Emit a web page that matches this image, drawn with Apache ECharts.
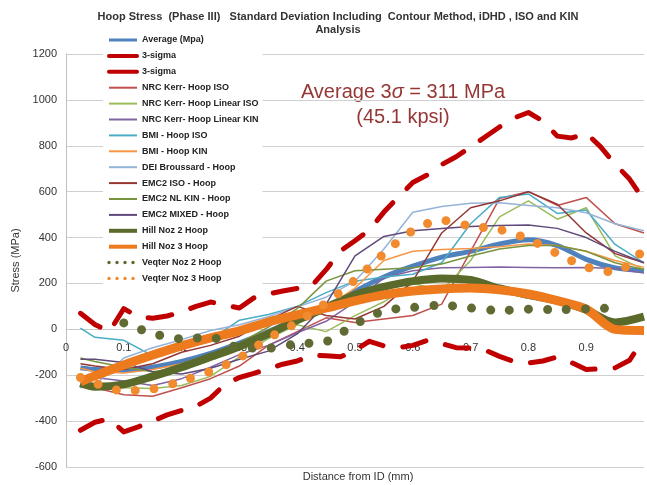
<!DOCTYPE html>
<html>
<head>
<meta charset="utf-8">
<script src="https://cdn.jsdelivr.net/npm/echarts@6/dist/echarts.min.js"></script>
<style>
html, body { margin: 0; padding: 0; background: #fff; }
#chart { width: 647px; height: 485px; }
</style>
</head>
<body>
<div id="chart"></div>
<script>
// x positions (mm) used by the 3-sigma bands
const xFine = [0.025, 0.05, 0.075, 0.1, 0.125, 0.15, 0.175, 0.2, 0.225, 0.25,
  0.275, 0.3, 0.325, 0.35, 0.375, 0.4, 0.425, 0.45, 0.475, 0.5,
  0.525, 0.55, 0.575, 0.6, 0.625, 0.65, 0.675, 0.7, 0.725, 0.75,
  0.775, 0.8, 0.825, 0.85, 0.875, 0.9, 0.925, 0.95, 0.975, 1.0];
// x positions (mm) used by every other series
const xPts = [0.025, 0.05, 0.1, 0.15, 0.2, 0.25, 0.3, 0.35, 0.4, 0.45, 0.5,
  0.55, 0.6, 0.65, 0.7, 0.75, 0.8, 0.85, 0.9, 0.95, 1.0];

const sigmaUpper = [70, 21, -10, 90, 55, 48, 58, 76, 100, 119,
  106, 93, 137, 154, 167, 178, 190, 260, 342, 386,
  433, 511, 577, 640, 673, 718, 752, 795, 838, 882,
  921, 945, 908, 842, 834, 855, 795, 720, 655, 563];
const sigmaLower = [-440, -405, -390, -447, -425, -400, -373, -353, -335, -300,
  -240, -210, -192, -172, -152, -138, -112, -115, -120, -90,
  -52, -72, -80, -70, -48, -62, -80, -82, -90, -118,
  -140, -147, -138, -120, -145, -175, -172, -168, -135, -40];

const average   = [-168, -175, -178, -165, -140, -105, -60, -10, 45, 90, 165, 228, 275, 315, 340, 372, 390, 365, 305, 268, 255];
const nrcIso    = [-250, -255, -285, -292, -255, -215, -160, -70, -10, 50, 30, 45, 60, 110, 340, 570, 600, 540, 575, 460, 420];
const nrcLinIso = [-235, -245, -255, -258, -245, -205, -120, -40, 20, -10, 60, 120, 200, 170, 300, 490, 560, 480, 530, 320, 260];
const nrcLinKin = [-205, -210, -225, -245, -215, -165, -110, -70, -15, 35, 120, 225, 255, 268, 270, 272, 270, 268, 270, 265, 245];
const bmiIso    = [5, -35, -48, -115, -80, -45, 40, 65, 100, 160, 210, 228, 240, 290, 460, 575, 590, 505, 520, 370, 290];
const bmiKin    = [-170, -185, -190, -175, -150, -110, -60, -5, 45, 95, 180, 300, 340, 348, 352, 360, 372, 365, 340, 300, 270];
const deiHoop   = [-255, -245, -125, -80, -45, -5, 20, 55, 98, 140, 210, 350, 510, 535, 550, 552, 540, 530, 508, 460, 430];
const emc2Iso   = [-150, -160, -175, -150, -100, -70, -30, 40, 100, 60, 45, 100, 210, 420, 530, 560, 600, 545, 420, 330, 290];
const emc2NlKin = [-125, -140, -165, -185, -170, -120, -60, 10, 90, 210, 255, 262, 268, 285, 320, 350, 365, 365, 340, 290, 260];
const emc2Mixed = [-130, -130, -145, -185, -195, -170, -130, -95, -20, 110, 320, 405, 430, 440, 448, 452, 455, 440, 400, 340, 290];
const hillNoz2  = [-235, -250, -240, -205, -165, -120, -75, -20, 40, 95, 150, 185, 210, 222, 215, 178, 150, 125, 85, 30, 55];
const hillNoz3  = [-229, -203, -155, -112, -72, -37, -7, 32, 63, 93, 124, 150, 167, 176, 180, 172, 154, 125, 88, 0, -5];
const veqter2   = [null, null, 28, -18, -41, -35, -80, -82, -63, -53, 22, 80, 95, 105, 93, 82, 88, 86, 89, 93, null];
const veqter3   = [-210, -235, -268, -260, -225, -183, -125, -40, 30, 115, 215, 330, 430, 475, 450, 435, 393, 330, 272, 250, 350];

const yTicks = { min: -600, max: 1200, step: 200 };
const FONT = "'Liberation Sans', Arial, sans-serif";

// plot box in pixels, x axis drawn where stress = 0
const plotTop = 54, plotBottom = 467;
const zeroOffset = -(plotBottom - plotTop) * (0 - yTicks.min) / (yTicks.max - yTicks.min);

function pairs(xs, vals) {
  return xs.map((x, i) => [x, vals[i]]);
}

function line(name, xs, vals, color, width, extra) {
  return Object.assign({
    name: name,
    type: 'line',
    data: pairs(xs, vals),
    symbol: 'none',
    connectNulls: false,
    lineStyle: { color: color, width: width, join: 'round' },
    itemStyle: { color: color }
  }, extra || {});
}

const dashed = { type: [24, 20], cap: 'round' };
const dots = { type: [0, 19], cap: 'round' };

const series = [
  line('Average (Mpa)', xPts, average, '#4F81BD', 5, { smooth: 0.3 }),
  line('3-sigma', xFine, sigmaUpper, '#C00000', 5),
  line('3-sigma ', xFine, sigmaLower, '#C00000', 5),
  line('NRC Kerr- Hoop ISO', xPts, nrcIso, '#C0504D', 1.5),
  line('NRC Kerr- Hoop Linear ISO', xPts, nrcLinIso, '#9BBB59', 1.5),
  line('NRC Kerr- Hoop Linear KIN', xPts, nrcLinKin, '#8064A2', 1.5),
  line('BMI - Hoop ISO', xPts, bmiIso, '#4BACC6', 1.5),
  line('BMI - Hoop KIN', xPts, bmiKin, '#F79646', 1.5),
  line('DEI Broussard - Hoop', xPts, deiHoop, '#95B3D7', 1.5),
  line('EMC2 ISO - Hoop', xPts, emc2Iso, '#953735', 1.5),
  line('EMC2 NL KIN - Hoop', xPts, emc2NlKin, '#77933C', 1.5),
  line('EMC2 MIXED - Hoop', xPts, emc2Mixed, '#604A7B', 1.5),
  line('Hill Noz 2 Hoop', xPts, hillNoz2, '#5A6A2A', 8, { smooth: 0.3 }),
  line('Hill Noz 3 Hoop', xPts, hillNoz3, '#EE7A1E', 9, { smooth: 0.3 }),
  line('Veqter Noz 2 Hoop', xPts, veqter2, '#5F6B33', 9, { smooth: 0.3 }),
  line('Veqter Noz 3 Hoop', xPts, veqter3, '#F28A2E', 9, { smooth: 0.3 })
];
// dash patterns for the 3-sigma bands and the Veqter dots
series[1].lineStyle = Object.assign(series[1].lineStyle, dashed);
series[2].lineStyle = Object.assign(series[2].lineStyle, dashed);
series[14].lineStyle = Object.assign(series[14].lineStyle, dots);
series[15].lineStyle = Object.assign(series[15].lineStyle, dots);

const legendWidth = {
  'Average (Mpa)': 3, '3-sigma': 4, '3-sigma ': 4,
  'Hill Noz 2 Hoop': 4, 'Hill Noz 3 Hoop': 4
};
const legendData = series.map(s => {
  const item = {
    name: s.name,
    itemStyle: { opacity: 0 },
    lineStyle: { width: legendWidth[s.name] || 2, type: 'solid' }
  };
  if (s.name.indexOf('Veqter') === 0) {
    item.lineStyle = { width: 3.5, type: [0, 8], cap: 'round' };
  }
  return item;
});

const chart = echarts.init(document.getElementById('chart'), null, { renderer: 'canvas' });
chart.setOption({
  animation: false,
  backgroundColor: '#fff',
  grid: { left: 66, right: -3, top: plotTop, bottom: 485 - plotBottom },
  xAxis: {
    type: 'value',
    min: 0,
    max: 1,
    interval: 0.1,
    offset: zeroOffset,
    axisLine: { show: true, onZero: false, lineStyle: { color: '#c8c8c8', width: 1 } },
    axisTick: { show: false },
    splitLine: { show: false },
    axisLabel: {
      margin: 13,
      fontSize: 11,
      fontFamily: FONT,
      color: '#333',
      formatter: v => (v >= 1 ? '' : String(+v.toFixed(1)))
    }
  },
  yAxis: {
    type: 'value',
    min: yTicks.min,
    max: yTicks.max,
    interval: yTicks.step,
    name: 'Stress (MPa)',
    nameLocation: 'middle',
    nameGap: 40,
    nameTextStyle: { fontSize: 11, fontFamily: FONT, color: '#333' },
    axisLine: { show: true, lineStyle: { color: '#bfbfbf' } },
    axisTick: { show: false },
    axisLabel: { margin: 9, fontSize: 11, fontFamily: FONT, color: '#333', formatter: v => String(v) },
    splitLine: { lineStyle: { color: '#d0d0d0', width: 1 } }
  },
  legend: {
    orient: 'vertical',
    left: 103,
    top: 33,
    padding: [2, 4, 2, 4],
    backgroundColor: '#fff',
    itemWidth: 28,
    itemHeight: 10,
    itemGap: 5.9,
    selectedMode: false,
    textStyle: { fontSize: 9, fontWeight: 'bold', fontFamily: FONT, color: '#222', lineHeight: 10 },
    data: legendData
  },
  graphic: [
    {
      type: 'text',
      x: 338,
      y: 10,
      style: {
        text: 'Hoop Stress  (Phase III)   Standard Deviation Including  Contour Method, iDHD , ISO and KIN\nAnalysis',
        align: 'center',
        verticalAlign: 'top',
        lineHeight: 13,
        font: 'bold 11px ' + FONT,
        fill: '#333'
      }
    },
    {
      type: 'text',
      x: 403,
      y: 92,
      style: {
        text: '{a|Average 3}{s|σ}{a| = 311 MPa}',
        align: 'center',
        verticalAlign: 'middle',
        rich: {
          a: { fontSize: 20, fontFamily: FONT, fill: '#953735' },
          s: { fontSize: 20, fontFamily: FONT, fontStyle: 'italic', fill: '#953735' }
        }
      }
    },
    {
      type: 'text',
      x: 403,
      y: 117,
      style: {
        text: '(45.1 kpsi)',
        align: 'center',
        verticalAlign: 'middle',
        font: '20px ' + FONT,
        fill: '#953735'
      }
    },
    {
      type: 'text',
      x: 358,
      y: 477,
      style: {
        text: 'Distance from ID (mm)',
        align: 'center',
        verticalAlign: 'middle',
        font: '11px ' + FONT,
        fill: '#333'
      }
    }
  ],
  series: series
});
</script>
</body>
</html>
